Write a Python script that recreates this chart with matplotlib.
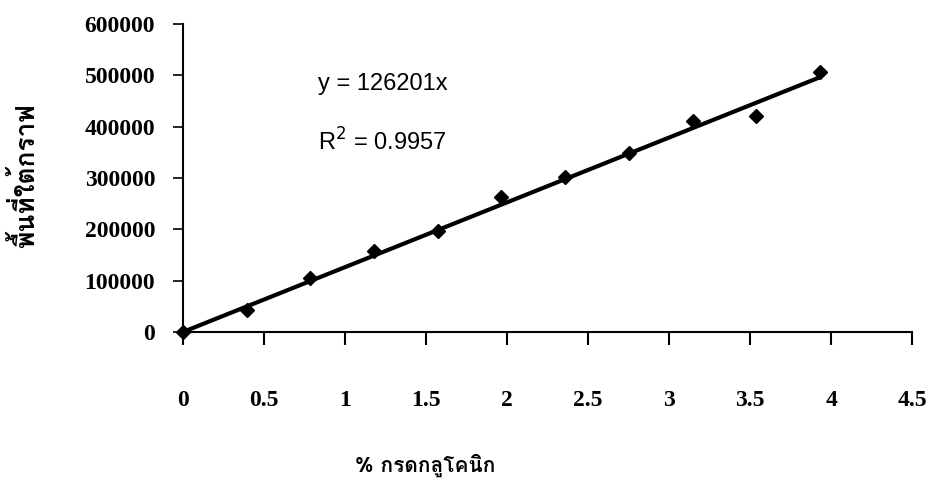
import numpy as np
import matplotlib
matplotlib.use("Agg")
from matplotlib import pyplot as plt
from matplotlib import font_manager
from matplotlib.ft2font import FT2Font

# data
conc = [0, 0.393, 0.786, 1.179, 1.572, 1.965, 2.358, 2.751, 3.144, 3.537, 3.93]
area = [0, 43000, 105000, 158000, 197000, 262000, 302000, 348000, 410000, 421000, 507000]
slope = 126201
r2 = 0.9957
xticks = [0, 0.5, 1, 1.5, 2, 2.5, 3, 3.5, 4, 4.5]
yticks = [0, 100000, 200000, 300000, 400000, 500000, 600000]
xlabel = "% กรดกลูโคนิก"
ylabel = "พื้นที่ใต้กราฟ"


def thai_family():
    # pick any installed font that has Thai glyphs
    for f in font_manager.fontManager.ttflist:
        try:
            if FT2Font(f.fname).get_char_index(ord("ก")):
                return f.name
        except Exception:
            pass
    return "DejaVu Sans"


thai = thai_family()

fig = plt.figure(figsize=(9.29, 4.86), dpi=100)
ax = fig.add_axes([0.197, 0.317, 0.785, 0.634])

fit_x = np.array([0, conc[-1]])
ax.plot(fit_x, slope * fit_x, color="black", linewidth=3, solid_capstyle="round", zorder=2)
ax.plot(conc, area, linestyle="none", marker="D", markersize=7.5, color="black", zorder=3, clip_on=False)

ax.set_xlim(0, 4.5)
ax.set_ylim(0, 600000)
ax.set_xticks(xticks)
ax.set_yticks(yticks)
ax.set_xticklabels([f"{t:g}" for t in xticks])
ax.set_yticklabels([str(t) for t in yticks])

for s in ["top", "right"]:
    ax.spines[s].set_visible(False)
for s in ["left", "bottom"]:
    ax.spines[s].set_linewidth(1.5)

ax.tick_params(axis="x", direction="out", length=9, width=1.5, pad=33)
ax.tick_params(axis="y", direction="out", length=7, width=1.2, pad=13)
for lbl in ax.get_xticklabels() + ax.get_yticklabels():
    lbl.set_fontfamily("Liberation Serif")
    lbl.set_fontweight("bold")
    lbl.set_fontsize(17)

ax.text(0.83, 482000, f"y = {slope}x", fontsize=17, family="Liberation Sans", va="center")
ax.text(0.83, 370000, "R$^{2}$ = " + f"{r2}", fontsize=17, family="Liberation Sans", va="center")

fig.text(425 / 929, 1 - 465 / 486, xlabel, family=[thai, "DejaVu Sans"], fontweight="bold",
         fontsize=15, ha="center", va="center")
fig.text(25 / 929, 1 - 176 / 486, ylabel, family=[thai, "DejaVu Sans"], fontweight="bold",
         fontsize=19, ha="center", va="center", rotation=90)

fig.savefig("out.png", dpi=100)
